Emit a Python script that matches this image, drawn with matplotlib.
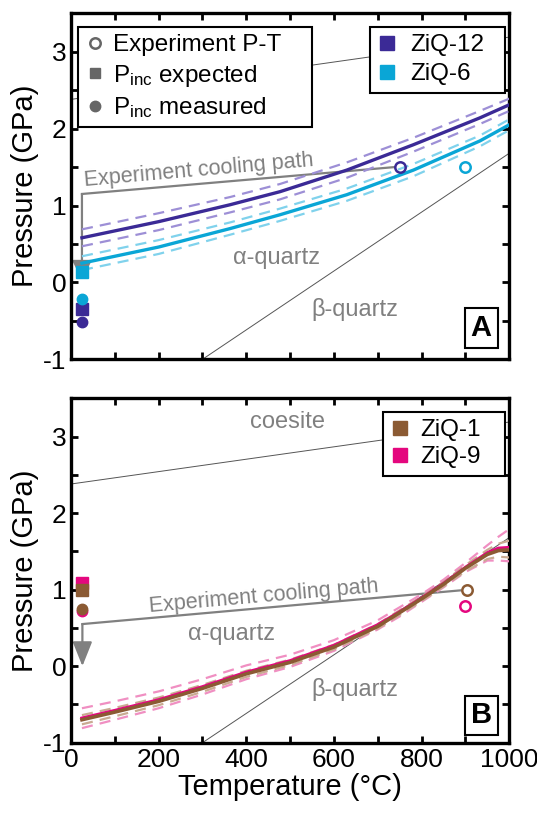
import numpy as np
import matplotlib
matplotlib.use('Agg')
import matplotlib.pyplot as plt
from matplotlib.lines import Line2D

plt.rcParams['font.family'] = ['Liberation Sans', 'DejaVu Sans']
plt.rcParams['mathtext.default'] = 'regular'
plt.rcParams['axes.unicode_minus'] = False

# ---- panel A data ----
T_a = [25, 100, 200, 363, 477, 629, 781, 933, 1000]
p12 = [0.58, 0.67, 0.79, 1.01, 1.18, 1.46, 1.79, 2.14, 2.31]
p12_hi = [0.69, 0.78, 0.90, 1.11, 1.28, 1.56, 1.88, 2.23, 2.39]
p12_lo = [0.47, 0.56, 0.68, 0.91, 1.08, 1.36, 1.70, 2.06, 2.23]
p6 = [0.25, 0.34, 0.46, 0.70, 0.88, 1.14, 1.46, 1.84, 2.05]
p6_hi = [0.34, 0.43, 0.55, 0.78, 0.96, 1.22, 1.54, 1.91, 2.12]
p6_lo = [0.16, 0.25, 0.37, 0.62, 0.80, 1.06, 1.38, 1.77, 1.98]

# experiment P-T, Pinc expected, Pinc measured  (ZiQ-12, ZiQ-6)
exp_T_a = [751, 900]
exp_P_a = [1.50, 1.50]
inc_exp_a = [-0.34, 0.14]
inc_meas_a = [-0.52, -0.22]
cool_a = ([739, 25, 25], [1.50, 1.15, 0.03])

# ---- panel B data ----
T_b = [25, 100, 200, 300, 400, 500, 600, 700, 750, 800, 850, 900, 950, 975, 1000]
p1 = [-0.70, -0.60, -0.46, -0.29, -0.10, 0.05, 0.25, 0.52, 0.70, 0.88, 1.07, 1.28, 1.46, 1.51, 1.52]
p1_hi = [-0.64, -0.545, -0.41, -0.245, -0.06, 0.085, 0.28, 0.55, 0.73, 0.91, 1.10, 1.32, 1.52, 1.60, 1.64]
p1_lo = [-0.76, -0.655, -0.51, -0.335, -0.14, 0.015, 0.22, 0.49, 0.67, 0.85, 1.04, 1.24, 1.40, 1.43, 1.42]
p9 = [-0.68, -0.58, -0.44, -0.27, -0.08, 0.07, 0.27, 0.54, 0.71, 0.89, 1.08, 1.29, 1.48, 1.54, 1.55]
p9_hi = [-0.55, -0.46, -0.33, -0.17, 0.01, 0.15, 0.34, 0.60, 0.77, 0.94, 1.13, 1.35, 1.58, 1.69, 1.79]
p9_lo = [-0.81, -0.70, -0.55, -0.37, -0.17, -0.01, 0.20, 0.48, 0.65, 0.84, 1.03, 1.23, 1.38, 1.38, 1.37]

# (ZiQ-1, ZiQ-9)
exp_T_b = [903, 899]
exp_P_b = [0.99, 0.78]
inc_exp_b = [0.99, 1.09]
inc_meas_b = [0.75, 0.72]
cool_b = ([888, 26, 26], [0.99, 0.55, 0.0])

# phase boundaries
ab_T = [300, 1000]
ab_P = [-1.0, 1.68]
coe_T = [0, 1000]
coe_P = [2.38, 3.19]

purple, purple_l = '#3b2a96', '#9d8fd6'
cyan, cyan_l = '#0aa6d6', '#80d2ec'
brown, brown_l = '#8b5a33', '#c9ab92'
pink, pink_l = '#e4077e', '#f08fc2'
grey = '#808080'

fig = plt.figure(figsize=(5.37, 8.14), dpi=100)
axA = fig.add_axes([0.1322, 0.5586, 0.8162, 0.4251])
axB = fig.add_axes([0.1322, 0.0876, 0.8162, 0.4231])


def style(ax, xlabels):
    ax.set_xlim(0, 1000)
    ax.set_ylim(-1, 3.5)
    ax.set_xticks(np.arange(0, 1001, 200))
    ax.set_xticks(np.arange(0, 1001, 100), minor=True)
    ax.set_yticks([-1, 0, 1, 2, 3])
    ax.set_yticks(np.arange(-1, 3.6, 0.5), minor=True)
    ax.tick_params(which='both', direction='in', top=True, right=True,
                   length=5, width=2, labelsize=19)
    for s in ax.spines.values():
        s.set_linewidth(2.4)
    if not xlabels:
        ax.tick_params(labelbottom=False)
    ax.set_ylabel('Pressure (GPa)', fontsize=21, labelpad=3)


def boundaries(ax):
    ax.plot(ab_T, ab_P, color='#555555', lw=0.7, zorder=1)
    ax.plot(coe_T, coe_P, color='#555555', lw=0.7, zorder=1)


def cooling(ax, path, hl):
    ax.plot(path[0][:2], path[1][:2], color=grey, lw=1.6, zorder=2)
    ax.annotate('', xy=(path[0][2], path[1][2]), xytext=(path[0][1], path[1][1]),
                arrowprops=dict(arrowstyle='-|>,head_length=%g,head_width=0.3' % hl,
                                mutation_scale=20, lw=1.6, color=grey,
                                shrinkA=0, shrinkB=0), zorder=2)


def legend(ax, handles, labels, x0, w, ytop, hpad, lsp):
    leg = ax.legend(handles, labels, loc='upper left', mode='expand',
                    bbox_to_anchor=(x0, 0, w, ytop), borderaxespad=0,
                    fancybox=False, edgecolor='k', framealpha=1, fontsize=17.5,
                    handlelength=0.8, handletextpad=hpad, labelspacing=lsp,
                    borderpad=0.3)
    leg.get_frame().set_linewidth(1.5)
    leg.set_zorder(10)
    return leg


dash = (5, 3.2)

# ---- panel A ----
style(axA, False)
boundaries(axA)
for p, c in [(p12_hi, purple_l), (p12_lo, purple_l), (p6_hi, cyan_l), (p6_lo, cyan_l)]:
    axA.plot(T_a, p, color=c, lw=1.6, dashes=dash, zorder=3)
axA.plot(T_a, p12, color=purple, lw=2.4, zorder=4)
axA.plot(T_a, p6, color=cyan, lw=2.4, zorder=4)
cooling(axA, cool_a, 0.6)
for i, c in enumerate([purple, cyan]):
    axA.plot(exp_T_a[i], exp_P_a[i], 'o', mfc='none', mec=c, mew=1.8, ms=7.5, zorder=5)
    axA.plot(25, inc_exp_a[i], 's', color=c, ms=8.5, zorder=5)
    axA.plot(25, inc_meas_a[i], 'o', color=c, ms=7.5, zorder=5)

axA.text(470, 0.32, 'α-quartz', color=grey, fontsize=17, ha='center', va='center')
axA.text(647, -0.35, 'β-quartz', color=grey, fontsize=17, ha='center', va='center')
axA.text(291, 1.46, 'Experiment cooling path', color=grey, fontsize=15.5,
         ha='center', va='center', rotation=5)
axA.text(0.936, 0.0905, 'A', transform=axA.transAxes, fontsize=21, fontweight='bold',
         ha='center', va='center',
         bbox=dict(boxstyle='square,pad=0.2', fc='white', ec='k', lw=1.5))

leg_h = [Line2D([], [], ls='none', marker='o', mfc='none', mec='#666666', mew=1.8, ms=7.5),
         Line2D([], [], ls='none', marker='s', color='#666666', ms=7.5),
         Line2D([], [], ls='none', marker='o', color='#666666', ms=7.5)]
leg1 = legend(axA, leg_h, ['Experiment P-T', 'P$_{inc}$ expected', 'P$_{inc}$ measured'],
              0.015, 0.535, 0.961, 0.35, 0.27)
axA.add_artist(leg1)
sq_h = [Line2D([], [], ls='none', marker='s', color=purple, ms=10.5),
        Line2D([], [], ls='none', marker='s', color=cyan, ms=10.5)]
legend(axA, sq_h, ['ZiQ-12', 'ZiQ-6'], 0.683, 0.307, 0.961, 0.55, 0.3)

# ---- panel B ----
style(axB, True)
axB.set_xlabel('Temperature (°C)', fontsize=21, labelpad=1)
boundaries(axB)
for p, c in [(p9_hi, pink_l), (p9_lo, pink_l), (p1_hi, brown_l), (p1_lo, brown_l)]:
    axB.plot(T_b, p, color=c, lw=1.6, dashes=dash, zorder=3)
axB.plot(T_b, p9, color=pink, lw=2.4, zorder=4)
axB.plot(T_b, p1, color=brown, lw=2.6, zorder=4)
cooling(axB, cool_b, 0.75)
for i, c in enumerate([brown, pink]):
    axB.plot(exp_T_b[i], exp_P_b[i], 'o', mfc='none', mec=c, mew=1.8, ms=7.5, zorder=5)
axB.plot(25, inc_exp_b[1], 's', color=pink, ms=8.5, zorder=5)
axB.plot(25, inc_exp_b[0], 's', color=brown, ms=8.5, zorder=5)
axB.plot(25, inc_meas_b[1], 'o', color=pink, ms=7.5, zorder=5)
axB.plot(25, inc_meas_b[0], 'o', color=brown, ms=7.5, zorder=5)

axB.text(493, 3.19, 'coesite', color=grey, fontsize=17, ha='center', va='center')
axB.text(367, 0.42, 'α-quartz', color=grey, fontsize=17, ha='center', va='center')
axB.text(647, -0.30, 'β-quartz', color=grey, fontsize=17, ha='center', va='center')
axB.text(439, 0.91, 'Experiment cooling path', color=grey, fontsize=15.5,
         ha='center', va='center', rotation=5)
axB.text(0.937, 0.079, 'B', transform=axB.transAxes, fontsize=21, fontweight='bold',
         ha='center', va='center',
         bbox=dict(boxstyle='square,pad=0.2', fc='white', ec='k', lw=1.5))

sq_b = [Line2D([], [], ls='none', marker='s', color=brown, ms=10.5),
        Line2D([], [], ls='none', marker='s', color=pink, ms=10.5)]
legend(axB, sq_b, ['ZiQ-1', 'ZiQ-9'], 0.712, 0.278, 0.960, 0.45, 0.2)

fig.savefig('out.png', dpi=100)
